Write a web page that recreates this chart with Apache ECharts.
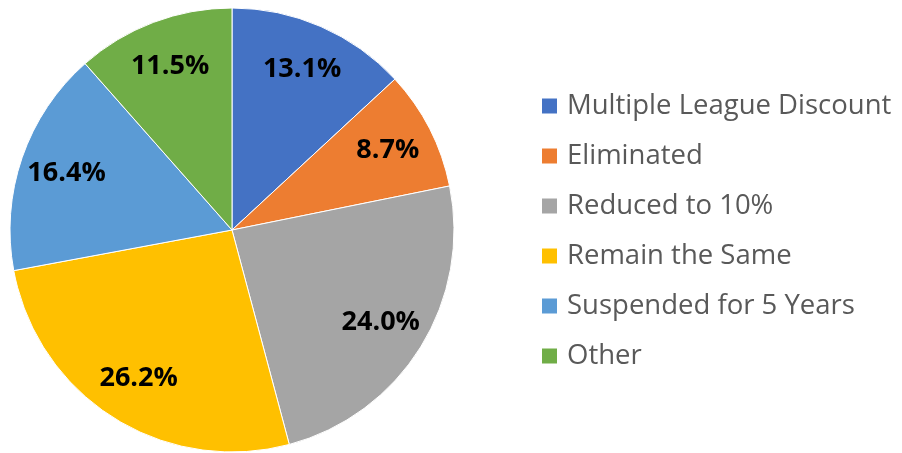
<!DOCTYPE html>
<html>
<head>
<meta charset="utf-8">
<script src="https://cdn.jsdelivr.net/npm/echarts@6/dist/echarts.min.js"></script>
<style>
  html, body { margin: 0; padding: 0; background: #fff; }
  #main { width: 902px; height: 453px; }
</style>
</head>
<body>
<div id="main"></div>
<script>
// 数据
var categories = ['Multiple League Discount', 'Eliminated', 'Reduced to 10%', 'Remain the Same', 'Suspended for 5 Years', 'Other'];
var values = [13.1, 8.7, 24.0, 26.2, 16.4, 11.5];
var colors = ['#4472C4', '#ED7D31', '#A5A5A5', '#FFC000', '#5B9BD5', '#70AD47'];

var chart = echarts.init(document.getElementById('main'));

var pieData = categories.map(function (name, i) {
    return { name: name, value: values[i] };
});

var option = {
    color: colors,
    animation: false,
    legend: {
        orient: 'vertical',
        left: 535,
        top: 86,
        itemWidth: 17,
        itemHeight: 17,
        itemGap: 20,
        icon: 'rect',
        textStyle: {
            fontFamily: 'Open Sans',
            fontSize: 27.5,
            lineHeight: 30,
            color: '#595959',
            padding: [0, 0, 0, 4]
        },
        data: categories
    },
    series: [
        {
            name: 'pie',
            type: 'pie',
            center: [232, 230],
            radius: [0, 222],
            startAngle: 90,
            clockwise: true,
            itemStyle: { borderColor: '#fff', borderWidth: 1 },
            label: { show: false },
            labelLine: { show: false },
            data: pieData
        },
        {
            // 标签层
            name: 'labels',
            type: 'pie',
            silent: true,
            center: [232, 230],
            radius: [122, 222],
            startAngle: 90,
            clockwise: true,
            itemStyle: { color: 'transparent' },
            label: {
                show: true,
                position: 'inside',
                formatter: function (p) { return p.value.toFixed(1) + '%'; },
                fontFamily: 'Open Sans',
                fontWeight: 'bold',
                fontSize: 27,
                color: '#000'
            },
            labelLine: { show: false },
            data: pieData
        }
    ]
};

chart.setOption(option);
</script>
</body>
</html>
